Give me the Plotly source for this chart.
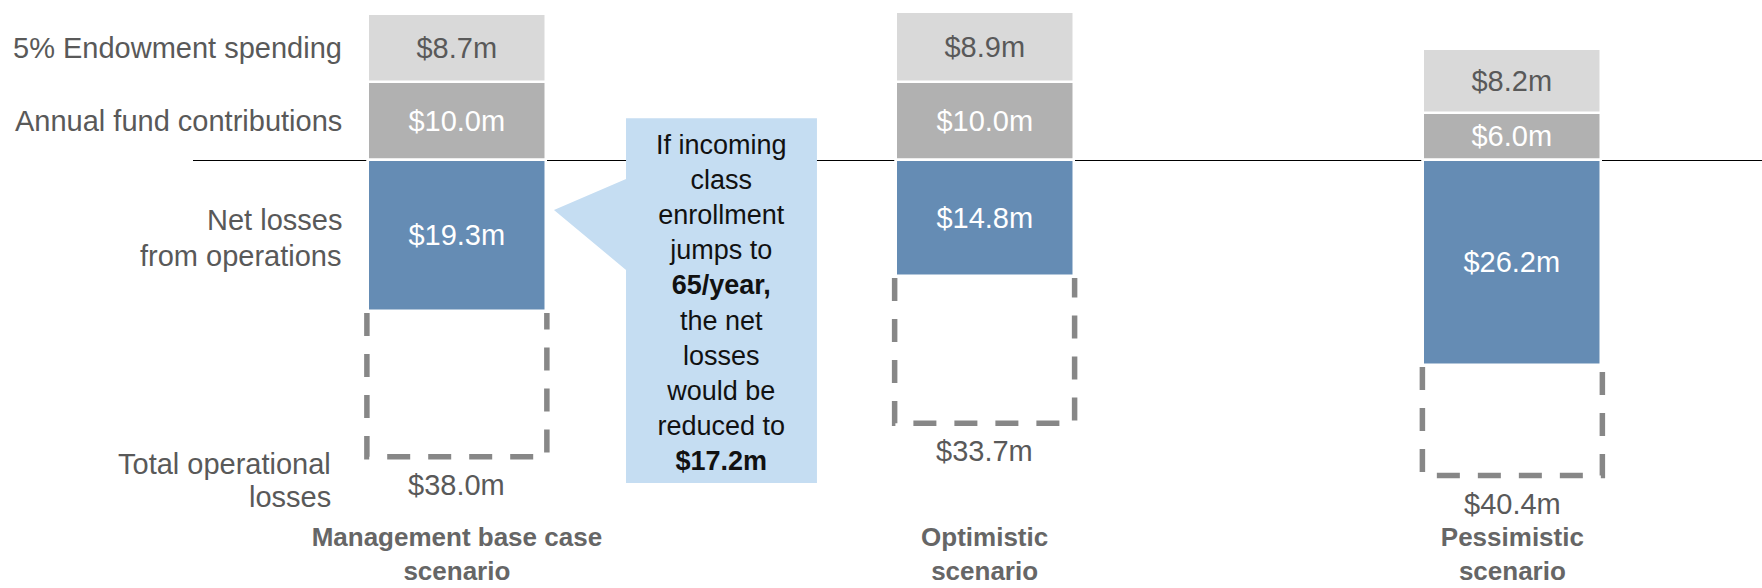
import plotly.graph_objects as go

# ---- data ----
scenarios = ["Management base case<br>scenario", "Optimistic<br>scenario", "Pessimistic<br>scenario"]
endowment_spending = [8.7, 8.9, 8.2]
annual_fund = [10.0, 10.0, 6.0]
net_losses = [19.3, 14.8, 26.2]
total_losses = [38.0, 33.7, 40.4]
row_label_endow = "5% Endowment spending"
row_label_annual = "Annual fund contributions"
row_label_net = ["Net losses", "from operations"]
row_label_total = ["Total operational", "losses"]
callout_lines = ["If incoming", "class", "enrollment", "jumps to", "<b>65/year,</b>",
                 "the net", "losses", "would be", "reduced to", "<b>$17.2m</b>"]

FONT = "Liberation Sans, Arial, sans-serif"
GREY_TXT = "#595959"
C_LIGHT = "#D9D9D9"
C_DARK = "#B1B1B1"
C_BLUE = "#658CB4"
C_DASH = "#878787"
C_CALLOUT = "#C5DDF2"

xs = list(range(len(scenarios)))
BAR_W = 0.337

def money(v):
    return f"${v:.1f}m"

fig = go.Figure()

# positive stack: annual fund (bottom), endowment (top)
fig.add_trace(go.Bar(
    x=xs, y=annual_fund, width=BAR_W, marker=dict(color=C_DARK, line=dict(color="white", width=2.5)),
    text=[money(v) for v in annual_fund], textposition="inside", insidetextanchor="middle",
    textfont=dict(color="white", size=29, family=FONT), textangle=0, showlegend=False, hoverinfo="skip"))
fig.add_trace(go.Bar(
    x=xs, y=endowment_spending, width=BAR_W, marker=dict(color=C_LIGHT, line=dict(color="white", width=2.5)),
    text=[money(v) for v in endowment_spending], textposition="inside", insidetextanchor="middle",
    textfont=dict(color=GREY_TXT, size=29, family=FONT), textangle=0, showlegend=False, hoverinfo="skip"))
# negative: net losses
fig.add_trace(go.Bar(
    x=xs, y=[-v for v in net_losses], width=BAR_W, marker=dict(color=C_BLUE, line=dict(color="white", width=2.5)),
    text=[money(v) for v in net_losses], textposition="inside", insidetextanchor="middle",
    textfont=dict(color="white", size=29, family=FONT), textangle=0, showlegend=False, hoverinfo="skip"))

# dashed outline for total operational losses (remaining part below net losses)
hw = BAR_W / 2 + 0.002
for i, (n, t) in enumerate(zip(net_losses, total_losses)):
    fig.add_trace(go.Scatter(
        x=[i - hw, i - hw, i + hw, i + hw], y=[-n - 0.3, -t, -t, -n - 0.3], mode="lines",
        line=dict(color=C_DASH, width=5.5, dash="23px,18px"), showlegend=False, hoverinfo="skip"))
    fig.add_annotation(x=i, y=-t, text=money(t), showarrow=False, yanchor="top", yshift=-10,
                       font=dict(size=29, color=GREY_TXT, family=FONT))

# row labels (aligned with first scenario's segments)
lab_x = -0.214
lab_font = dict(size=29, color=GREY_TXT, family=FONT)
fig.add_annotation(x=lab_x, y=annual_fund[0] + endowment_spending[0] / 2, text=row_label_endow,
                   xanchor="right", showarrow=False, font=lab_font)
fig.add_annotation(x=lab_x, y=annual_fund[0] / 2, text=row_label_annual,
                   xanchor="right", showarrow=False, font=lab_font)
for line, shift in zip(row_label_net, [15, -21]):
    fig.add_annotation(x=lab_x, y=-net_losses[0] / 2, text=line, xanchor="right",
                       yshift=shift, showarrow=False, font=lab_font)
for line, shift in zip(row_label_total, [-7, -40]):
    fig.add_annotation(x=lab_x - 0.021, y=-total_losses[0], text=line, xanchor="right",
                       yshift=shift, showarrow=False, font=lab_font)

# callout box with pointer
bx0, bx1, by0, by1 = 0.3205, 0.6823, -41.36, 5.34
tip_x, tip_y = 0.184, -6.4
fig.add_shape(type="path", xref="x", yref="y",
              path=f"M {bx0},{by1} L {bx1},{by1} L {bx1},{by0} L {bx0},{by0} L {bx0},-14.08 "
                   f"L {tip_x},{tip_y} L {bx0},-2.43 Z",
              fillcolor=C_CALLOUT, line=dict(width=0), layer="above")
fig.add_annotation(x=(bx0 + bx1) / 2, y=(by0 + by1) / 2, yshift=-2, text="<br>".join(callout_lines),
                   showarrow=False, align="center", font=dict(size=27, color="#111111", family=FONT))

fig.update_layout(
    width=1762, height=588,
    margin=dict(l=193, r=0, t=0, b=69, autoexpand=False),
    plot_bgcolor="white", paper_bgcolor="white",
    barmode="relative", bargap=0,
    font=dict(family=FONT),
    xaxis=dict(range=[-0.5, 2.473], tickvals=xs, ticktext=[f"<b>{s}</b>" for s in scenarios],
               showgrid=False, zeroline=False, showline=False, ticks="", automargin=False,
               tickfont=dict(size=26, color="#666666", family=FONT)),
    yaxis=dict(range=[-45.97, 20.49], showgrid=False, showticklabels=False, ticks="", automargin=False,
               zeroline=True, zerolinecolor="black", zerolinewidth=1.2, showline=False),
)

fig.write_html("out.html", config={"displayModeBar": False},
               post_script="document.body.style.margin='0';document.body.style.overflow='hidden';")
